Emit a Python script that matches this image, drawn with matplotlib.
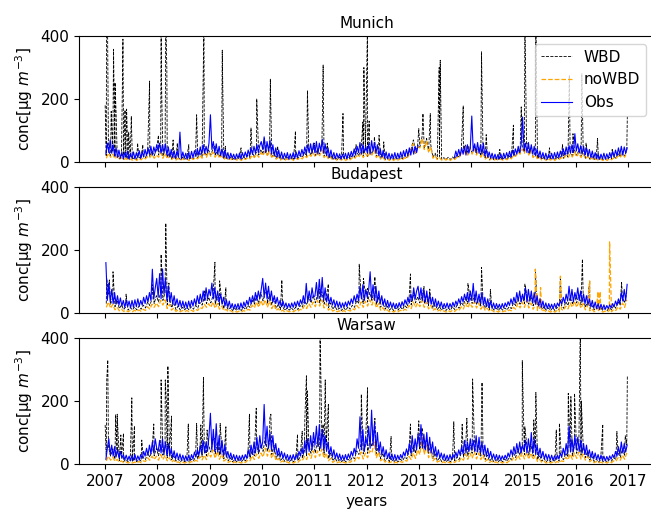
import numpy as np
import matplotlib
matplotlib.use('Agg')
import matplotlib.pyplot as plt

nan = float('nan')
cities = ['Munich', 'Budapest', 'Warsaw']
year_ticks = list(range(2007, 2018))
first_year = 2007

# ---------------- Munich ----------------
munich_obs = [  # 36 values per year (about every 10 days), 2007..2016
    25,60,30,70,28,55,20,45,15,38,12,32,10,30,14,35,9,28,12,32,10,30,14,36,12,34,16,40,20,45,25,50,22,48,30,55,
    35,60,28,55,30,58,22,48,16,40,14,36,12,35,15,95,10,32,12,28,9,30,11,34,14,36,18,42,22,48,25,55,28,50,30,60,
    150,40,65,30,58,25,50,20,42,15,38,12,30,10,28,12,25,9,26,11,28,10,30,14,32,16,38,20,45,24,50,28,55,30,52,65,
    40,80,30,65,35,70,25,55,20,45,16,38,12,32,10,28,12,30,9,26,11,30,10,32,14,36,18,40,22,48,26,55,30,58,28,60,
    30,65,25,60,35,72,28,58,20,45,15,38,12,30,10,28,12,26,9,25,11,28,10,30,14,34,18,42,22,50,30,62,25,55,30,50,
    30,58,25,68,35,62,28,55,20,42,15,36,12,32,10,28,9,26,11,30,10,28,12,32,14,36,18,40,20,45,22,48,25,50,30,52,
    nan,nan,nan,nan,nan,nan,nan,nan,nan,nan,nan,nan,nan,nan,nan,nan,nan,nan,nan,nan,nan,nan,nan,nan,14,35,18,40,20,45,25,50,22,55,28,48,
    146,35,58,30,62,28,55,25,60,20,40,15,32,12,28,10,25,9,24,10,26,9,28,12,30,14,34,16,38,20,42,25,50,30,55,143,
    35,60,30,62,28,55,25,50,20,42,15,35,12,30,10,28,9,25,11,28,10,30,12,32,14,35,18,42,22,48,25,52,28,55,30,90,
    35,58,30,52,25,50,22,45,18,40,14,35,12,30,10,26,9,25,10,28,9,26,11,30,14,34,16,38,20,45,24,50,22,48,28,45,
]
munich_nowbd = [  # 24 values per year (about every 15 days)
    12,28,15,25,10,18,8,14,6,12,5,10,6,11,5,12,7,14,10,18,14,25,12,22,
    15,30,12,28,10,20,8,14,6,12,5,11,6,10,5,12,8,15,10,22,12,28,15,32,
    18,32,15,28,12,20,8,14,6,12,5,10,6,11,5,12,8,15,10,22,14,25,15,30,
    20,38,18,35,12,22,9,15,6,12,5,10,6,11,5,12,8,14,10,20,14,25,18,30,
    16,32,20,38,14,24,9,16,6,12,5,10,6,11,5,11,7,14,10,20,15,28,14,28,
    15,32,22,38,14,24,9,15,6,12,5,10,5,11,6,11,7,14,10,22,40,58,25,48,
    45,75,40,68,30,48,12,20,8,14,6,11,6,12,5,12,8,15,14,28,25,48,22,42,
    25,42,22,40,15,28,9,16,6,12,5,10,5,10,6,11,7,14,10,22,18,32,25,42,
    28,48,22,38,14,24,9,15,6,12,5,10,6,11,5,12,8,14,10,22,14,25,16,32,
    16,30,14,26,10,18,8,13,6,11,5,10,5,10,5,11,7,13,10,20,14,26,15,30,
]
munich_wbd = [  # 24 values per year
    20,40,18,35,15,28,10,20,8,16,8,15,8,15,8,16,10,20,14,30,18,35,20,38,
    22,40,18,38,15,28,10,20,8,16,8,15,8,15,8,16,10,22,14,28,18,35,20,38,
    22,42,20,38,16,30,10,20,8,16,8,15,8,14,8,16,10,22,14,30,18,32,22,40,
    25,48,22,42,16,32,11,22,8,16,8,15,8,15,8,18,10,22,15,30,18,38,22,40,
    20,42,25,48,18,34,11,22,8,16,8,15,8,15,8,18,10,22,15,32,20,38,18,38,
    18,40,25,48,18,32,11,20,8,16,8,15,8,15,8,17,10,22,14,32,42,70,28,55,
    48,80,42,72,32,55,15,28,9,18,8,14,8,15,8,16,10,22,16,34,28,55,25,48,
    28,50,25,48,18,35,11,22,8,16,7,14,8,14,8,15,9,20,12,28,20,40,28,50,
    32,55,25,45,16,32,10,20,8,16,7,14,8,15,8,16,10,20,12,28,16,32,20,38,
    20,38,18,34,12,24,9,18,8,15,7,14,7,14,7,15,9,18,12,28,16,34,18,38,
]
munich_wbd_peak_years = [
    2007.00, 2007.026, 2007.045, 2007.115, 2007.16, 2007.19, 2007.21, 2007.34, 2007.38, 2007.41,
    2007.45, 2007.50, 2007.62, 2007.72, 2007.85, 2008.02, 2008.07, 2008.08, 2008.16, 2008.18,
    2008.30, 2008.38, 2008.60, 2008.75, 2008.89, 2009.10, 2009.24, 2009.30, 2009.60, 2009.79,
    2009.90, 2010.05, 2010.16, 2010.30, 2010.64, 2010.87, 2011.00, 2011.17, 2011.25, 2011.55,
    2011.80, 2011.93, 2011.95, 2012.02, 2012.05, 2012.15, 2012.24, 2012.33, 2012.90, 2013.00,
    2013.08, 2013.15, 2013.22, 2013.39, 2013.41, 2013.85, 2013.95, 2014.20, 2014.29, 2014.55,
    2014.81, 2014.96, 2015.03, 2015.10, 2015.24, 2015.50, 2015.75, 2015.88, 2015.95, 2016.12,
    2016.20, 2016.42, 2016.70, 2016.99,
]
munich_wbd_peak_vals = [
    180, 450, 450, 161, 358, 252, 150, 390, 165, 168,
    95, 145, 60, 55, 257, 85, 450, 239, 450, 295,
    70, 60, 55, 150, 450, 50, 355, 50, 45, 108,
    200, 75, 263, 50, 98, 227, 60, 308, 60, 154,
    55, 127, 300, 450, 130, 80, 85, 64, 70, 106,
    154, 75, 154, 300, 323, 178, 50, 350, 87, 40,
    117, 175, 450, 60, 450, 45, 55, 276, 90, 280,
    60, 75, 40, 148,
]

# ---------------- Budapest ----------------
budapest_obs = [
    160,40,95,35,75,30,65,28,55,25,48,22,40,18,42,20,38,16,40,18,42,20,45,22,40,25,50,30,55,35,65,40,139,45,80,110,
    50,125,45,140,60,110,40,85,35,65,28,55,25,45,20,40,18,38,16,35,15,38,18,40,22,45,25,55,30,60,35,70,40,80,45,75,
    55,95,45,80,40,70,35,60,28,50,22,42,18,38,15,30,12,28,14,30,12,32,15,35,20,40,25,50,30,55,35,65,40,70,45,75,
    110,50,95,45,85,40,70,35,55,30,50,25,40,20,38,18,32,15,30,16,32,18,35,20,38,22,42,28,55,30,94,35,70,40,80,50,
    55,97,45,107,50,113,40,80,35,60,30,50,25,42,20,38,18,35,16,32,18,35,20,38,25,45,30,55,35,60,40,85,45,90,40,75,
    50,75,131,45,90,40,85,35,70,30,55,25,45,20,40,18,35,16,32,15,30,16,33,18,36,22,42,28,50,32,60,40,80,45,70,85,
    45,80,40,75,35,70,30,60,28,50,22,45,20,38,18,35,15,30,16,32,15,30,18,34,20,38,25,45,30,52,35,60,40,65,35,70,
    40,94,35,70,32,60,30,65,25,50,20,45,18,38,15,32,14,30,15,28,14,30,16,32,20,36,24,45,28,50,32,65,38,70,35,60,
    40,80,35,75,38,70,32,65,28,55,22,45,18,38,15,32,14,30,15,28,14,30,16,32,22,40,28,50,32,60,38,85,40,75,35,65,
    45,80,40,70,35,60,30,55,25,45,20,40,16,35,14,30,12,28,12,26,12,24,14,26,16,30,20,38,25,45,30,65,38,75,40,91,
]
budapest_nowbd = [
    18,35,15,28,10,18,7,12,5,9,4,8,4,9,4,10,5,12,8,20,12,28,18,32,
    20,40,25,42,14,28,9,16,5,10,4,8,4,8,4,9,5,12,8,18,14,28,18,30,
    18,35,15,30,12,22,7,12,4,8,3,6,3,6,3,8,5,12,9,25,16,35,18,40,
    22,42,18,38,14,28,8,14,5,9,3,7,4,7,4,9,5,12,9,24,14,30,18,35,
    20,40,22,42,16,30,9,16,6,10,4,7,3,8,4,9,6,14,10,24,16,35,18,38,
    22,42,25,48,16,30,9,17,6,10,4,7,3,8,4,9,5,12,9,24,14,35,18,32,
    20,40,18,35,13,25,8,14,5,10,4,7,3,8,4,9,5,12,8,20,13,32,16,32,
    18,36,16,32,12,24,8,15,5,10,4,7,3,8,4,7,4,10,7,18,12,30,16,35,
    18,40,16,32,12,26,8,15,5,10,4,7,3,8,3,8,4,12,8,22,13,32,18,38,
    18,36,15,30,10,22,7,13,4,9,3,8,3,6,3,8,4,12,8,20,12,32,18,42,
]
budapest_nowbd_peak_years = [2015.23, 2015.33, 2015.71, 2016.27, 2016.43, 2016.47, 2016.65]
budapest_nowbd_peak_vals = [139, 81, 117, 102, 68, 68, 226]
budapest_wbd = [
    30,60,28,50,20,40,14,26,11,20,9,18,10,19,10,22,12,25,16,35,24,45,30,55,
    35,70,40,65,26,48,17,32,11,22,9,18,10,18,10,20,12,24,16,34,25,50,30,50,
    32,55,28,50,22,40,13,26,10,18,8,15,8,16,8,18,11,24,18,40,28,55,30,65,
    38,65,30,60,26,48,15,28,11,20,8,16,9,16,9,19,11,24,18,40,26,50,32,55,
    32,60,32,68,28,52,17,32,12,22,9,16,8,17,9,20,12,25,18,40,30,58,30,60,
    35,65,40,75,28,52,18,34,12,22,9,16,8,17,9,20,11,24,17,40,26,55,32,52,
    32,60,30,58,24,45,15,28,11,20,9,16,8,17,9,20,11,24,15,34,24,50,30,50,
    30,58,28,52,22,42,15,28,11,20,9,16,8,17,9,16,10,20,14,32,24,45,28,55,
    30,60,28,52,23,45,15,28,11,20,9,16,8,17,8,18,10,24,15,36,24,50,30,58,
    32,58,26,50,18,38,13,24,10,19,8,17,8,15,8,17,10,24,15,35,24,50,32,65,
]
budapest_wbd_peak_years = [
    2007.03, 2007.08, 2007.15, 2007.40, 2007.90, 2008.07, 2008.16, 2008.22, 2008.90, 2009.10,
    2009.19, 2009.31, 2010.10, 2010.38, 2011.10, 2011.27, 2011.86, 2011.94, 2012.02, 2012.16,
    2012.84, 2012.90, 2013.10, 2013.21, 2013.94, 2014.20, 2014.37, 2015.03, 2015.23, 2015.71,
    2016.13, 2016.27, 2016.88,
]
budapest_wbd_peak_vals = [
    110, 105, 131, 60, 90, 186, 285, 95, 70, 161,
    102, 80, 70, 105, 75, 92, 155, 110, 78, 115,
    124, 70, 84, 76, 94, 145, 75, 92, 139, 117,
    171, 102, 97,
]

# ---------------- Warsaw ----------------
warsaw_obs = [
    15,50,80,30,60,25,55,22,45,20,40,18,30,14,28,12,25,10,28,12,30,11,26,13,30,18,40,25,50,28,60,32,70,35,80,50,
    40,75,35,80,30,70,28,65,25,50,20,42,16,35,14,32,12,28,11,26,10,28,12,30,16,38,22,45,28,60,32,75,35,70,40,90,
    161,45,110,40,128,38,90,32,75,28,60,22,40,18,35,14,30,12,28,11,26,12,28,14,30,18,45,25,60,30,70,35,85,40,90,50,
    70,189,60,120,50,100,45,90,38,65,28,50,22,40,18,35,15,30,12,28,12,30,14,30,18,40,25,50,32,75,35,80,40,90,45,100,
    60,120,55,125,50,110,45,90,40,70,30,55,22,45,18,35,15,32,12,28,12,30,14,32,18,40,25,50,32,80,50,150,45,110,40,85,
    60,120,50,171,60,130,45,100,38,70,30,55,22,45,18,35,15,32,12,30,12,28,14,30,18,38,25,48,30,65,35,90,40,80,45,95,
    55,125,50,95,45,100,40,85,35,70,28,55,22,45,18,35,15,32,12,28,12,30,14,30,18,38,22,45,28,55,32,75,35,70,40,80,
    45,75,40,90,38,85,35,70,30,60,25,50,20,40,16,32,14,30,12,28,12,26,14,28,16,35,22,45,28,55,32,65,35,70,35,60,
    40,75,35,80,38,100,35,80,30,60,25,50,20,40,16,32,14,30,12,28,12,26,14,28,16,35,22,50,28,65,32,120,38,80,40,90,
    45,85,40,75,35,65,30,60,25,45,20,40,16,35,14,30,12,28,11,25,10,24,12,26,15,30,20,40,25,55,30,70,35,65,38,60,
]
warsaw_nowbd = [
    10,25,12,22,8,15,5,10,4,7,3,6,3,6,3,8,4,10,8,20,12,25,14,25,
    12,30,14,28,10,20,6,12,4,7,3,6,3,6,3,8,5,12,9,24,13,28,14,35,
    22,45,18,40,15,32,9,15,5,9,3,7,3,6,3,8,5,13,10,26,14,32,18,35,
    22,50,25,45,18,35,10,18,6,10,4,7,3,6,3,8,5,13,10,24,14,34,18,42,
    20,42,25,48,18,35,10,18,5,10,4,7,3,6,3,8,5,12,9,24,16,38,16,35,
    20,42,35,70,20,38,10,18,6,10,4,7,3,6,3,8,5,12,9,24,14,35,18,45,
    30,85,30,60,20,42,10,18,6,10,4,7,3,6,3,8,5,12,8,20,12,32,15,35,
    18,40,16,35,14,28,8,15,5,9,3,7,3,6,3,8,4,10,8,20,12,28,15,35,
    16,38,15,35,14,28,8,15,5,9,3,7,3,6,3,8,4,10,8,22,13,32,15,35,
    18,38,15,32,12,25,7,13,4,8,3,6,3,6,3,8,4,10,8,20,12,28,15,35,
]
warsaw_wbd = [
    25,55,25,48,16,35,11,22,8,15,7,13,7,14,7,15,9,20,14,35,22,42,26,50,
    26,60,28,55,20,40,13,26,9,16,7,13,7,13,7,15,10,22,16,40,24,55,26,60,
    38,75,32,70,28,55,16,32,10,20,7,14,7,14,7,15,10,22,18,45,26,60,32,60,
    40,85,40,72,30,60,17,34,10,20,8,14,7,14,7,15,10,22,18,42,26,62,34,72,
    35,78,42,85,30,60,17,34,10,20,8,14,7,14,7,15,10,22,17,42,30,65,32,60,
    34,75,55,110,32,60,17,34,10,20,8,14,7,14,7,15,10,22,17,42,26,60,34,75,
    45,115,48,80,34,62,17,34,10,20,8,14,7,14,7,15,10,22,14,35,22,52,26,60,
    34,75,30,60,25,50,14,28,9,18,7,14,7,14,7,15,9,20,14,35,21,48,28,60,
    30,65,28,62,25,50,14,28,9,18,7,14,7,14,7,15,9,20,14,35,22,52,26,60,
    34,62,28,55,20,42,12,24,8,16,6,13,6,13,6,14,9,20,14,35,21,48,28,60,
]
warsaw_wbd_peak_years = [
    2007.00, 2007.03, 2007.05, 2007.20, 2007.23, 2007.30, 2007.35, 2007.50, 2007.51, 2007.56,
    2007.70, 2007.93, 2008.07, 2008.15, 2008.17, 2008.20, 2008.27, 2008.59, 2008.75, 2008.83,
    2008.88, 2008.95, 2009.10, 2009.20, 2009.31, 2009.76, 2009.89, 2010.15, 2010.17, 2010.68,
    2010.77, 2010.82, 2010.85, 2010.87, 2011.11, 2011.17, 2011.21, 2011.27, 2011.90, 2012.02,
    2012.16, 2012.47, 2012.84, 2013.00, 2013.67, 2013.83, 2013.92, 2014.03, 2014.21, 2014.98,
    2015.03, 2015.20, 2015.24, 2015.63, 2015.69, 2015.86, 2015.91, 2015.98, 2016.09, 2016.11,
    2016.52, 2016.79, 2016.95, 2016.99,
]
warsaw_wbd_peak_vals = [
    124, 267, 330, 156, 158, 92, 97, 134, 210, 121,
    76, 127, 267, 267, 200, 311, 152, 127, 129, 124,
    275, 108, 81, 129, 118, 158, 177, 145, 158, 94,
    104, 142, 280, 232, 450, 126, 267, 189, 221, 242,
    145, 87, 127, 137, 134, 126, 145, 270, 259, 328,
    118, 140, 227, 108, 129, 224, 214, 224, 450, 200,
    126, 103, 90, 279,
]


def regular_positions(values, per_year):
    assert len(values) == 10 * per_year, (len(values), per_year)
    return first_year + (np.arange(len(values)) + 0.5) / per_year


def with_peaks(base, per_year, peak_years, peak_vals):
    x = np.concatenate([regular_positions(base, per_year), np.asarray(peak_years, float)])
    y = np.concatenate([np.asarray(base, float), np.asarray(peak_vals, float)])
    order = np.argsort(x, kind='stable')
    return x[order], y[order]


def regular(values, per_year):
    return regular_positions(values, per_year), np.asarray(values, float)


data = {
    'Munich': dict(wbd=with_peaks(munich_wbd, 24, munich_wbd_peak_years, munich_wbd_peak_vals),
                   nowbd=regular(munich_nowbd, 24),
                   obs=regular(munich_obs, 36)),
    'Budapest': dict(wbd=with_peaks(budapest_wbd, 24, budapest_wbd_peak_years, budapest_wbd_peak_vals),
                     nowbd=with_peaks(budapest_nowbd, 24, budapest_nowbd_peak_years, budapest_nowbd_peak_vals),
                     obs=regular(budapest_obs, 36)),
    'Warsaw': dict(wbd=with_peaks(warsaw_wbd, 24, warsaw_wbd_peak_years, warsaw_wbd_peak_vals),
                   nowbd=regular(warsaw_nowbd, 24),
                   obs=regular(warsaw_obs, 36)),
}

plt.rcParams['font.family'] = ['DejaVu Sans']
plt.rcParams['font.size'] = 11

fig = plt.figure(figsize=(6.51, 5.13), dpi=100)
axes = fig.subplots(3, 1, sharex=True)
fig.subplots_adjust(left=0.1214, right=1.0046, top=0.9298, bottom=0.0955, hspace=0.198)

for ax, city in zip(axes, cities):
    d = data[city]
    ax.plot(*d['wbd'], color='black', linestyle='--', linewidth=0.6, label='WBD')
    ax.plot(*d['nowbd'], color='orange', linestyle='--', linewidth=0.9, label='noWBD')
    ax.plot(*d['obs'], color='blue', linestyle='-', linewidth=0.8, label='Obs')
    ax.set_ylim(0, 400)
    ax.set_yticks([0, 200, 400])
    ax.set_title(city, fontsize=11)
    ax.set_ylabel('conc[µg $m^{-3}$]', fontsize=11)
    ax.set_xlim(2006.5, 2017.5)
    ax.set_xticks(year_ticks)
    ax.set_xticklabels([str(y) for y in year_ticks])

axes[0].legend(loc='upper right', fontsize=11)
axes[-1].set_xlabel('years', fontsize=11)

fig.savefig('out.png', dpi=100)
